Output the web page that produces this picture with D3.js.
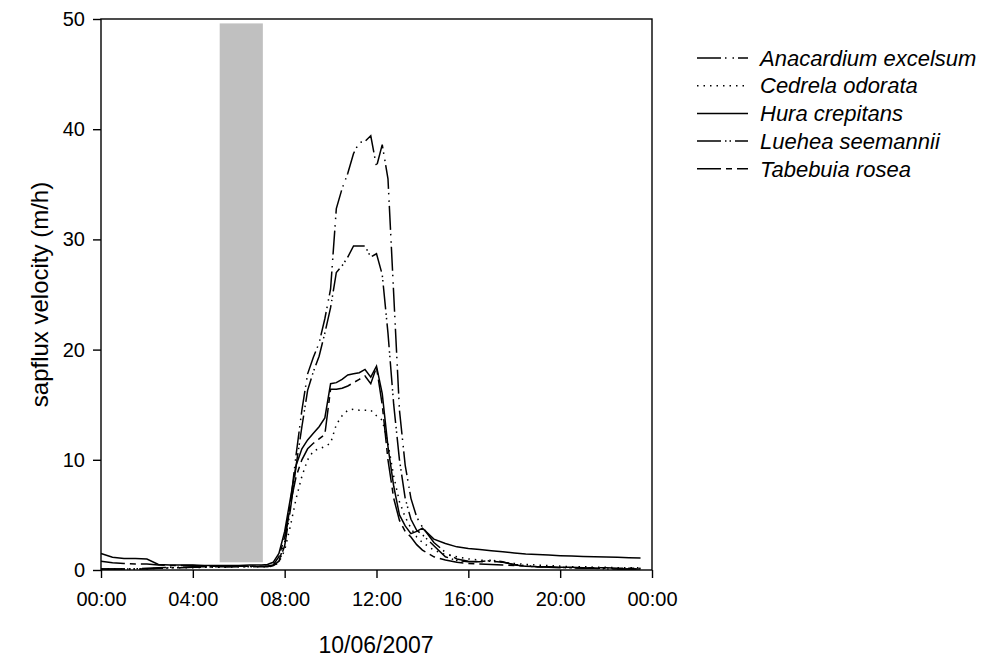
<!DOCTYPE html>
<html>
<head>
<meta charset="utf-8">
<script src="https://cdn.jsdelivr.net/npm/d3@7"></script>
<style>
  body { margin: 0; background: #fff; }
  text { font-family: "Liberation Sans", Arial, sans-serif; fill: #000; }
</style>
</head>
<body>
<div id="general"></div>
<script>
const w = 989, h = 662;
const m = { l: 101, t: 19, r: 337, b: 92 };

// time of day in hours (15 min steps around the peak)
const hours = [0, 0.5, 1, 1.5, 2, 2.5, 3, 3.5, 4, 4.5, 5, 5.5, 6, 6.5, 7,
  7.25, 7.5, 7.75, 8, 8.25, 8.5, 8.75, 9, 9.25, 9.5, 9.75, 10, 10.25, 10.5, 10.75,
  11, 11.25, 11.5, 11.75, 12, 12.25, 12.5, 12.75, 13, 13.25, 13.5, 13.75, 14,
  14.5, 15, 15.5, 16, 16.5, 17, 17.5, 18, 18.5, 19, 19.5, 20, 20.5, 21, 21.5,
  22, 22.5, 23, 23.5];

const anacardium = [0.1, 0.1, 0.1, 0.1, 0.15, 0.2, 0.25, 0.25, 0.3, 0.3, 0.3, 0.3, 0.35, 0.35, 0.35,
  0.35, 0.4, 0.8, 2.5, 6.0, 10.5, 14.5, 17.8, 19.3, 20.6, 22.8, 25.5, 32.8, 34.6, 36.0,
  37.8, 38.8, 38.9, 39.4, 36.6, 38.6, 35.5, 25.0, 14.5, 9.5, 6.5, 4.8, 3.9,
  2.5, 1.6, 1.0, 0.8, 0.75, 0.8, 0.7, 0.5, 0.4, 0.3, 0.3, 0.25, 0.2, 0.2, 0.15,
  0.15, 0.1, 0.1, 0.1];

const cedrela = [0.1, 0.1, 0.1, 0.1, 0.1, 0.15, 0.2, 0.2, 0.2, 0.25, 0.25, 0.25, 0.3, 0.3, 0.3,
  0.3, 0.35, 0.7, 1.8, 4.0, 6.5, 8.5, 10.0, 10.8, 11.0, 11.2, 11.5, 13.2, 14.0, 14.5,
  14.6, 14.5, 14.5, 14.5, 14.0, 13.6, 11.5, 8.5, 6.2, 4.8, 3.8, 3.0, 2.5,
  1.8, 1.4, 1.2, 1.0, 0.9, 0.8, 0.7, 0.6, 0.5, 0.45, 0.4, 0.35, 0.3, 0.3, 0.25,
  0.25, 0.2, 0.2, 0.2];

const hura = [1.5, 1.15, 1.05, 1.05, 1.0, 0.5, 0.45, 0.45, 0.45, 0.4, 0.4, 0.4, 0.4, 0.45, 0.45,
  0.5, 0.7, 1.5, 3.5, 6.5, 9.5, 11.0, 11.8, 12.4, 13.0, 13.8, 16.9, 17.0, 17.3, 17.7,
  17.8, 17.9, 18.2, 17.5, 18.5, 16.0, 11.2, 7.6, 5.0, 4.0, 3.3, 3.5, 3.8,
  2.8, 2.4, 2.1, 1.95, 1.85, 1.75, 1.65, 1.55, 1.45, 1.4, 1.35, 1.3, 1.27, 1.23, 1.2,
  1.18, 1.15, 1.12, 1.1];

const luehea = [0.1, 0.1, 0.1, 0.1, 0.1, 0.15, 0.2, 0.2, 0.25, 0.25, 0.3, 0.3, 0.3, 0.3, 0.3,
  0.3, 0.4, 0.7, 2.2, 5.5, 9.5, 13.0, 16.3, 18.0, 19.4, 21.5, 23.8, 27.0, 27.6, 28.4,
  29.4, 29.4, 29.4, 28.4, 28.7, 26.8, 21.5, 15.0, 10.0, 6.5, 4.6, 3.6, 3.2,
  2.2, 1.2, 0.85, 0.75, 0.75, 0.9, 0.75, 0.45, 0.35, 0.3, 0.25, 0.2, 0.2, 0.15, 0.15,
  0.1, 0.1, 0.1, 0.1];

const tabebuia = [0.8, 0.65, 0.6, 0.55, 0.55, 0.45, 0.4, 0.4, 0.4, 0.35, 0.35, 0.35, 0.35, 0.35, 0.35,
  0.35, 0.45, 1.2, 3.0, 6.0, 8.5, 10.0, 11.0, 11.5, 11.9, 12.3, 16.4, 16.4, 16.5, 16.7,
  17.0, 17.3, 17.6, 16.9, 18.4, 15.0, 10.0, 6.5, 4.5, 3.5, 3.0, 2.3, 1.8,
  1.2, 0.9, 0.7, 0.6, 0.55, 0.5, 0.45, 0.4, 0.35, 0.3, 0.3, 0.25, 0.25, 0.2, 0.2,
  0.2, 0.15, 0.15, 0.15];

const speciesNames = ["Anacardium excelsum", "Cedrela odorata", "Hura crepitans", "Luehea seemannii", "Tabebuia rosea"];
const dashes = ["24,4,1.5,6,1.5,4", "1.5,5", null, "24,4,1.5,3,1.5,4", "24,5,6,5"];
const xTicks = [0, 4, 8, 12, 16, 20, 24];
const yTicks = [0, 10, 20, 30, 40, 50];
const shaded = [5.17, 7.05, 0.7, 49.6]; // from, to (hours), bottom, top (m/h)

const seriesValues = [anacardium, cedrela, hura, luehea, tabebuia];
const series = speciesNames.map((name, i) => ({
  name, dash: dashes[i],
  values: hours.map((t, j) => ({ t, v: seriesValues[i][j] }))
}));

const iw = w - m.l - m.r, ih = h - m.t - m.b;
const x = d3.scaleLinear().domain([0, 24]).range([0, iw]);
const y = d3.scaleLinear().domain([0, 50]).range([ih, 0]);

const svg = d3.select("#general").append("svg").attr("width", w).attr("height", h);
const g = svg.append("g").attr("transform", `translate(${m.l},${m.t})`);

g.append("rect")
  .attr("x", x(shaded[0])).attr("width", x(shaded[1]) - x(shaded[0]))
  .attr("y", y(shaded[3])).attr("height", y(shaded[2]) - y(shaded[3]))
  .attr("fill", "#c0c0c0");

const line = d3.line().x(d => x(d.t)).y(d => y(d.v));
g.selectAll("path.series")
  .data(series)
  .join("path")
    .attr("class", "series")
    .attr("fill", "none")
    .attr("stroke", "#000")
    .attr("stroke-width", 1.5)
    .attr("stroke-dasharray", d => d.dash)
    .attr("d", d => line(d.values));

// frame
g.append("rect").attr("width", iw).attr("height", ih)
  .attr("fill", "none").attr("stroke", "#000").attr("stroke-width", 1.4);

const fmt = d => String(d % 24).padStart(2, "0") + ":00";
const xAxis = g.append("g").attr("transform", `translate(0,${ih})`)
  .call(d3.axisBottom(x).tickValues(xTicks).tickFormat(fmt).tickSize(8).tickPadding(14));
const yAxis = g.append("g")
  .call(d3.axisLeft(y).tickValues(yTicks).tickSize(8).tickPadding(8));
[xAxis, yAxis].forEach(a => {
  a.select(".domain").remove();
  a.selectAll("line").attr("stroke", "#000").attr("stroke-width", 1.4);
  a.selectAll("text").attr("font-size", 20).attr("font-family", "Liberation Sans, Arial, sans-serif").attr("fill", "#000");
});

svg.append("text")
  .attr("transform", `translate(48,${m.t + ih / 2}) rotate(-90)`)
  .attr("text-anchor", "middle")
  .attr("font-size", 24)
  .text("sapflux velocity (m/h)");

svg.append("text")
  .attr("x", 376).attr("y", 653)
  .attr("text-anchor", "middle")
  .attr("font-size", 23)
  .text("10/06/2007");

// legend
const lg = svg.append("g").attr("transform", "translate(697,58)");
const item = lg.selectAll("g").data(series).join("g")
  .attr("transform", (d, i) => `translate(0,${i * 27.7})`);
item.append("line")
  .attr("x1", 0).attr("x2", 51)
  .attr("stroke", "#000").attr("stroke-width", 1.5)
  .attr("stroke-dasharray", d => d.dash);
item.append("text")
  .attr("x", 63).attr("dy", "0.35em")
  .attr("font-size", 22).attr("font-style", "italic")
  .text(d => d.name);
</script>
</body>
</html>
